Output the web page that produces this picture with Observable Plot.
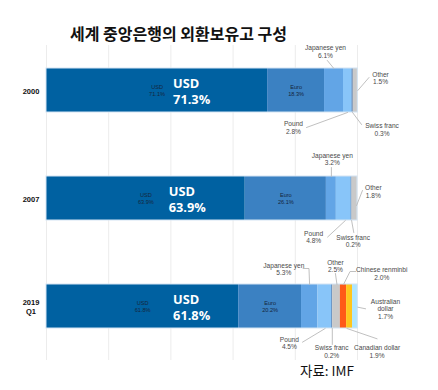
<!DOCTYPE html>
<html>
<head>
<meta charset="utf-8">
<script src="https://cdn.jsdelivr.net/npm/d3@7"></script>
<script src="https://cdn.jsdelivr.net/npm/@observablehq/plot@0.6"></script>
<style>
  html, body { margin: 0; padding: 0; background: #fff; }
  #wrap { position: relative; width: 438px; height: 390px; overflow: hidden; }
  #chart { position: absolute; left: 0; top: 0; }
  #title { position: absolute; left: 70px; top: 25px; font: bold 16px/16px "Noto Sans CJK KR", sans-serif; color: #111; white-space: nowrap; }
  #cap { position: absolute; left: 300px; top: 363px; font: 13.5px/14px "Noto Sans CJK KR", sans-serif; color: #111; white-space: nowrap; }
</style>
</head>
<body>
<div id="wrap">
  <div id="chart"></div>
  <div id="title">세계 중앙은행의 외환보유고 구성</div>
  <div id="cap">자료: IMF</div>
</div>
<script>
// ---- data ----
const years = ["2000", "2007", "2019\nQ1"];
const currencies = ["USD", "Euro", "Japanese yen", "Pound", "Swiss franc", "Other",
  "Chinese renminbi", "Canadian dollar", "Australian dollar"];
const shares2000 = [71.1, 18.3, 6.1, 2.8, 0.3, 1.5, 0, 0, 0];
const shares2007 = [63.9, 26.1, 3.2, 4.8, 0.2, 1.8, 0, 0, 0];
const shares2019 = [61.8, 20.2, 5.3, 4.5, 0.2, 2.5, 2.0, 1.9, 1.7];
const headline = ["71.3%", "63.9%", "61.8%"];
const gridTicks = [0, 20, 40, 60, 80, 100];

// ---- styles ----
const colors = ["#0061a1", "#3b81c2", "#62a5e6", "#88c5f9", "#1d4f8e", "#c9c9c9",
  "#ff5a17", "#ffc61c", "#ade5ff"];
const labelNames = {"Australian dollar": "Australian\ndollar"};

// ---- layout of the outside annotations (x in %, y as px offset from the row centre) ----
const annotations = [
  {row: 0, cur: "Japanese yen", lx: 89.7, ly: -38.8, pts: [[90.3, -30], [92.4, -22]]},
  {row: 0, cur: "Other", lx: 107.4, ly: -12.5, pts: [[103.7, -13], [100.1, 0]]},
  {row: 0, cur: "Pound", lx: 79.4, ly: 37.2, pts: [[83.6, 37], [96.8, 22]]},
  {row: 0, cur: "Swiss franc", lx: 107.9, ly: 39.2, pts: [[98.4, 22], [101.3, 34]]},
  {row: 1, cur: "Japanese yen", lx: 91.9, ly: -39.4, pts: [[91.6, -31], [91.6, -22]]},
  {row: 1, cur: "Other", lx: 105.1, ly: -7.2, pts: [[101.6, -8], [99.7, 7]]},
  {row: 1, cur: "Pound", lx: 85.9, ly: 38.4, pts: [[90.4, 38.5], [96.1, 22]]},
  {row: 1, cur: "Swiss franc", lx: 98.6, ly: 42.4, pts: [[98.1, 22], [98.8, 34]]},
  {row: 2, cur: "Japanese yen", lx: 76.3, ly: -37.5, pts: [[82.5, -38], [84.4, -38], [84.6, -22]]},
  {row: 2, cur: "Other", lx: 92.9, ly: -40.4, pts: [[92.9, -33], [93.4, -22]]},
  {row: 2, cur: "Chinese renminbi", lx: 107.8, ly: -33, pts: [[99.4, -35], [97.6, -35], [95.5, -22]]},
  {row: 2, cur: "Australian dollar", lx: 109.0, ly: 2.3, pts: [[102.6, 2.3], [100.1, 0.7]]},
  {row: 2, cur: "Pound", lx: 78.1, ly: 36.5, pts: [[82.3, 35.7], [89.6, 22]]},
  {row: 2, cur: "Swiss franc", lx: 91.7, ly: 44.8, pts: [[91.9, 22], [91.9, 38]]},
  {row: 2, cur: "Canadian dollar", lx: 106.3, ly: 44.8, pts: [[96.6, 22], [106.3, 32.3]]}
];
const bigLabelX = [40.7, 39.3, 40.7];

// ---- build tables ----
const series = [shares2000, shares2007, shares2019];
const segments = [];
series.forEach((vals, row) => {
  let acc = 0;
  vals.forEach((v, i) => {
    if (v > 0) segments.push({row, currency: currencies[i], value: v, x1: acc, x2: acc + v});
    acc += v;
  });
});
const ROW_PX = 108;     // pixels between row centres (y range / domain)
const HALF = 22 / ROW_PX; // half bar thickness in row units
const rowsIdx = [0, 1, 2];
const rowEnd = series.map(v => d3.sum(v));

const labelData = annotations.map(a => {
  const v = series[a.row][currencies.indexOf(a.cur)];
  return {x: a.lx, y: a.row + a.ly / ROW_PX, text: (labelNames[a.cur] || a.cur) + "\n" + v.toFixed(1) + "%"};
});
const leaderData = [];
annotations.forEach((a, k) => a.pts.forEach(([x, dy]) => leaderData.push({k, x, y: a.row + dy / ROW_PX})));

const inside = segments.filter(d => d.currency === "USD" || d.currency === "Euro");

const plot = Plot.plot({
  width: 438,
  height: 390,
  marginLeft: 46,
  marginRight: 81,
  marginTop: 45,
  marginBottom: 30,
  style: {fontFamily: "'Liberation Sans', Arial, sans-serif", background: "transparent"},
  x: {domain: [0, 100], axis: null},
  y: {domain: [0, 2], range: [90, 306], axis: null},
  color: {domain: currencies, range: colors},
  marks: [
    Plot.ruleX(gridTicks, {x: d => d, y1: -45 / ROW_PX, y2: 270 / ROW_PX, stroke: "#ececec", strokeWidth: 1}),
    Plot.rect(segments, {x1: "x1", x2: "x2", y1: d => d.row - HALF, y2: d => d.row + HALF, fill: "currency"}),
    Plot.rect(rowsIdx, {x1: 0, x2: i => rowEnd[i], y1: i => i - HALF, y2: i => i + HALF, fill: "none", stroke: "#d3e4f3", strokeWidth: 1}),
    Plot.text(inside, {x: d => (d.x1 + d.x2) / 2, y: "row", text: d => d.currency + "\n" + d.value.toFixed(1) + "%",
      fontSize: 5.6, lineHeight: 1.3, fill: "#15263c"}),
    Plot.text(rowsIdx, {x: i => bigLabelX[i], y: d => d, text: i => "USD\n" + headline[i], textAnchor: "start",
      fontFamily: "'Open Sans', 'Noto Sans', sans-serif", fontWeight: "bold", fontSize: 12.8, lineHeight: 1.24, fill: "#ffffff"}),
    Plot.line(leaderData, {x: "x", y: "y", z: "k", stroke: "#b9b9b9", strokeWidth: 0.9}),
    Plot.text(labelData, {x: "x", y: "y", text: "text", fontSize: 6.6, lineHeight: 1.17, fill: "#4a4a4a"}),
    Plot.text(rowsIdx, {x: 0, y: d => d, dx: -15.5, text: i => years[i], fontSize: 7.5, fontWeight: "bold", lineHeight: 1.25, fill: "#111"})
  ]
});
document.getElementById("chart").appendChild(plot);
</script>
</body>
</html>
